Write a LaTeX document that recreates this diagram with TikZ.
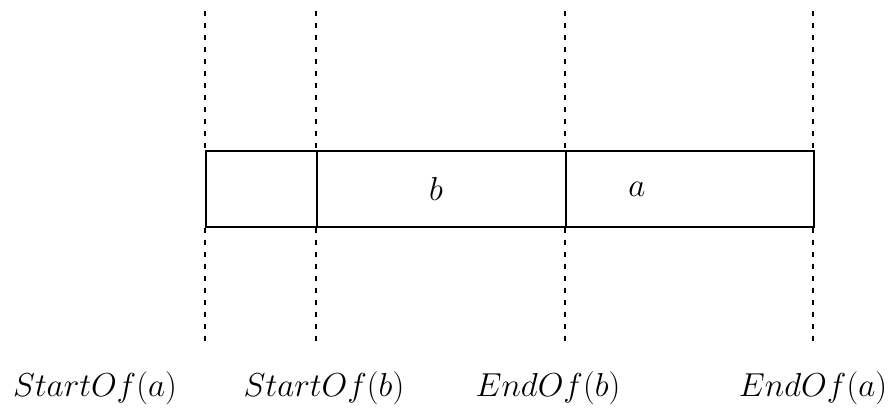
\documentclass[tikz,border=0pt]{standalone}
\usepackage{amsmath}
\usepackage{tikz}
\usetikzlibrary{positioning}

\begin{document}
\begin{tikzpicture}[x=0.75pt, y=-0.75pt,
    guide/.style={draw=black, line width=1pt, dash pattern=on 4pt off 5pt},
    cell/.style={draw=black, line width=1.3pt, inner sep=0pt, anchor=north west,
                 minimum height=76*0.75pt},
    lbl/.style={font=\fontsize{25}{30}\selectfont, inner sep=0pt}]

    \useasboundingbox (0,0) rectangle (888,414);

    % intervals
    \node[cell, minimum width=111*0.75pt] (c0) at (205,150) {};
    \node[cell, minimum width=249*0.75pt] (cb) at (316,150) {};
    \node[cell, minimum width=248*0.75pt] (ca) at (565,150) {};

    % time points
    \coordinate (sa) at (205,11);
    \coordinate (sb) at (316,11);
    \coordinate (eb) at (565,11);
    \coordinate (ea) at (813,11);

    \foreach \p/\c/\s in {sa/c0/west, sb/cb/west, eb/ca/west, ea/ca/east} {
        \draw[guide] (\p) -- (\p |- \c.north \s);
        \draw[guide] (\p |- \c.south \s) -- ++(0,119);
    }

    \node[lbl] (lb) at (436,189) {$b$};
    \node[lbl] (la) at (637,189) {$a$};

    \node[lbl] (tsa) at (95,388)  {$StartOf(a)$};
    \node[lbl] (tsb) at (324,388) {$StartOf(b)$};
    \node[lbl] (teb) at (548,388) {$EndOf(b)$};
    \node[lbl] (tea) at (813,388) {$EndOf(a)$};
\end{tikzpicture}
\end{document}
